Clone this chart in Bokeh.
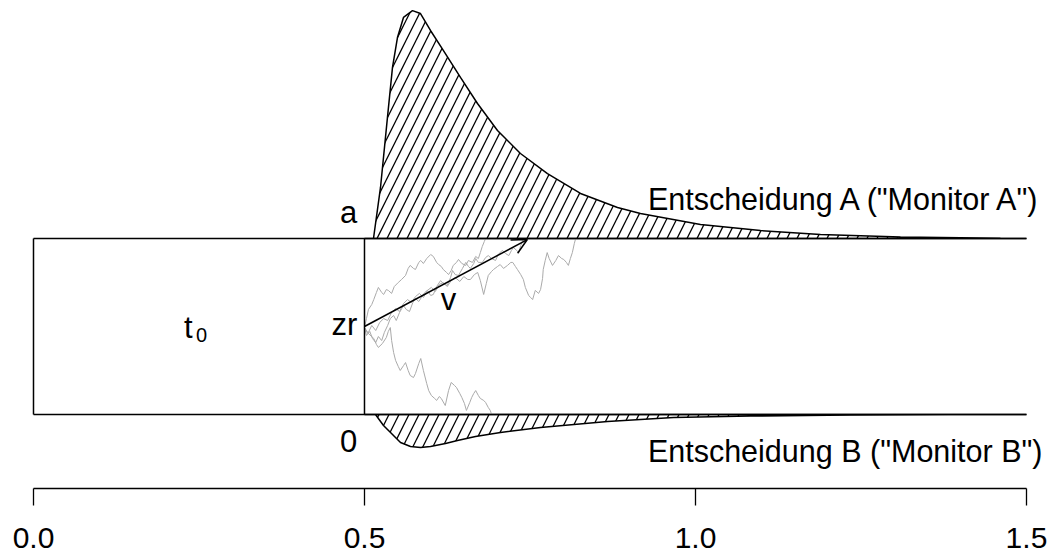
from bokeh.plotting import figure
from bokeh.models import Label, Arrow, OpenHead, FixedTicker, PrintfTickFormatter, Range1d
from bokeh.embed import file_html
from bokeh.resources import INLINE

# ---- model parameters (schematic diffusion model) ----
t0 = 0.5          # non-decision time
a = 1.0           # upper boundary
zr = 0.5          # starting point
v_end = (0.746, 0.994)  # drift arrow tip

x_ticks = [0.0, 0.5, 1.0, 1.5]
x_max = 1.5

# upper (decision A) RT density
upper_t = [0.5136, 0.5242, 0.5347, 0.5423, 0.5498, 0.5589, 0.5725, 0.5846, 0.5997,
           0.6193, 0.6450, 0.6707, 0.7009, 0.7356, 0.7764, 0.8263, 0.8822, 0.9169,
           1.0076, 1.0982, 1.1888, 1.3097, 1.4607, 1.5]
upper_d = [0.0, 0.290, 0.688, 0.972, 1.142, 1.256, 1.295, 1.278, 1.182,
           1.068, 0.915, 0.767, 0.614, 0.483, 0.369, 0.256, 0.176, 0.142,
           0.080, 0.045, 0.023, 0.009, 0.001, 0.0]

# lower (decision B) RT density
lower_t = [0.5166, 0.5287, 0.5393, 0.5544, 0.5695, 0.5846, 0.5997, 0.6224, 0.6405,
           0.6677, 0.7054, 0.7659, 0.8671, 0.9668, 1.0831, 1.2341, 1.3852, 1.5]
lower_d = [0.0, 0.0625, 0.102, 0.159, 0.182, 0.188, 0.182, 0.165, 0.148,
           0.125, 0.102, 0.074, 0.040, 0.017, 0.009, 0.003, 0.0006, 0.0]

# sample diffusion paths (time, evidence)
walk_a = [(0.500, 0.494), (0.503, 0.545), (0.506, 0.597), (0.511, 0.625), (0.514, 0.653),
          (0.518, 0.693), (0.521, 0.722), (0.526, 0.693), (0.529, 0.682), (0.533, 0.710),
          (0.536, 0.705), (0.541, 0.688), (0.545, 0.727), (0.551, 0.750), (0.556, 0.767),
          (0.562, 0.790), (0.566, 0.830), (0.569, 0.847), (0.574, 0.830), (0.577, 0.824),
          (0.582, 0.864), (0.585, 0.875), (0.589, 0.858), (0.594, 0.886), (0.600, 0.909),
          (0.604, 0.898), (0.609, 0.864), (0.612, 0.852), (0.616, 0.841), (0.619, 0.824),
          (0.624, 0.807), (0.627, 0.795), (0.631, 0.818), (0.634, 0.847), (0.639, 0.864),
          (0.642, 0.881), (0.647, 0.858), (0.653, 0.847), (0.657, 0.875), (0.663, 0.864),
          (0.668, 0.898), (0.672, 0.886), (0.675, 0.920), (0.678, 0.955), (0.681, 0.983),
          (0.683, 1.000)]
walk_b = [(0.500, 0.494), (0.505, 0.460), (0.511, 0.506), (0.517, 0.477), (0.523, 0.523),
          (0.529, 0.545), (0.535, 0.534), (0.541, 0.580), (0.547, 0.602), (0.553, 0.585),
          (0.559, 0.631), (0.565, 0.653), (0.571, 0.636), (0.577, 0.670), (0.583, 0.688),
          (0.589, 0.665), (0.595, 0.705), (0.601, 0.722), (0.607, 0.699), (0.613, 0.739),
          (0.619, 0.750), (0.625, 0.727), (0.631, 0.761), (0.637, 0.778), (0.644, 0.756),
          (0.650, 0.784), (0.656, 0.767), (0.660, 0.767), (0.666, 0.795), (0.671, 0.807),
          (0.675, 0.761), (0.680, 0.682), (0.684, 0.744), (0.687, 0.790), (0.692, 0.813),
          (0.695, 0.824), (0.701, 0.841), (0.705, 0.852), (0.710, 0.830), (0.716, 0.847),
          (0.721, 0.864), (0.724, 0.864), (0.728, 0.841), (0.731, 0.824), (0.736, 0.795),
          (0.740, 0.767), (0.743, 0.722), (0.748, 0.676), (0.751, 0.665), (0.754, 0.653),
          (0.758, 0.705), (0.763, 0.688), (0.766, 0.710), (0.769, 0.773), (0.770, 0.824),
          (0.773, 0.875), (0.776, 0.920), (0.779, 0.886), (0.784, 0.847), (0.789, 0.875),
          (0.793, 0.903), (0.798, 0.886), (0.801, 0.881), (0.805, 0.864), (0.808, 0.847),
          (0.811, 0.886), (0.814, 0.920), (0.817, 0.972), (0.819, 1.000)]
walk_c = [(0.500, 0.494), (0.503, 0.449), (0.508, 0.472), (0.512, 0.432), (0.517, 0.409),
          (0.521, 0.443), (0.526, 0.420), (0.530, 0.466), (0.535, 0.506), (0.539, 0.545),
          (0.544, 0.5625), (0.548, 0.534), (0.553, 0.580), (0.559, 0.619), (0.563, 0.597),
          (0.568, 0.585), (0.573, 0.636), (0.577, 0.659), (0.582, 0.642), (0.586, 0.665),
          (0.591, 0.693), (0.595, 0.705), (0.600, 0.676), (0.604, 0.682), (0.609, 0.727),
          (0.615, 0.761), (0.619, 0.744), (0.625, 0.733), (0.630, 0.778), (0.633, 0.818),
          (0.637, 0.795), (0.642, 0.790), (0.648, 0.830), (0.653, 0.864), (0.657, 0.841),
          (0.660, 0.830), (0.665, 0.858), (0.668, 0.886), (0.672, 0.864), (0.678, 0.864),
          (0.683, 0.892), (0.687, 0.903), (0.692, 0.886), (0.698, 0.875), (0.702, 0.909),
          (0.708, 0.932), (0.713, 0.915), (0.718, 0.903), (0.722, 0.932), (0.725, 0.949),
          (0.730, 0.932), (0.733, 0.920), (0.736, 0.960), (0.739, 0.989), (0.740, 1.000)]
walk_d = [(0.500, 0.494), (0.506, 0.460), (0.514, 0.432), (0.518, 0.398), (0.521, 0.381),
          (0.527, 0.403), (0.533, 0.4375), (0.536, 0.472), (0.539, 0.494), (0.541, 0.420),
          (0.544, 0.352), (0.547, 0.307), (0.551, 0.273), (0.554, 0.250), (0.559, 0.278),
          (0.562, 0.295), (0.566, 0.250), (0.569, 0.222), (0.574, 0.210), (0.577, 0.233),
          (0.582, 0.290), (0.585, 0.318), (0.589, 0.250), (0.594, 0.176), (0.597, 0.136),
          (0.601, 0.108), (0.606, 0.091), (0.609, 0.080), (0.613, 0.102), (0.616, 0.091),
          (0.622, 0.051), (0.627, 0.136), (0.631, 0.182), (0.636, 0.165), (0.639, 0.153),
          (0.644, 0.119), (0.647, 0.097), (0.651, 0.0625), (0.654, 0.023), (0.659, 0.068),
          (0.662, 0.097), (0.665, 0.119), (0.668, 0.136), (0.672, 0.108), (0.675, 0.091),
          (0.680, 0.080), (0.683, 0.068), (0.687, 0.040), (0.690, 0.023), (0.692, 0.000)]
walks = [walk_a, walk_b, walk_c, walk_d]

label_a = "Entscheidung A (\"Monitor A\")"
label_b = "Entscheidung B (\"Monitor B\")"

FONT = "Liberation Sans"
FS = "31px"

p = figure(width=1050, height=557, output_backend="svg", toolbar_location=None,
           x_range=Range1d(-0.04985, 1.5363), y_range=Range1d(-0.4205, 2.3523),
           y_axis_location=None, min_border_left=0, min_border_right=0,
           min_border_top=0, min_border_bottom=69)
p.xgrid.visible = False
p.ygrid.visible = False
p.outline_line_color = None
p.background_fill_color = "white"

# axis
ax = p.xaxis[0]
ax.ticker = FixedTicker(ticks=x_ticks)
ax.formatter = PrintfTickFormatter(format="%.1f")
ax.bounds = (x_ticks[0], x_ticks[-1])
ax.axis_line_color = "black"
ax.axis_line_width = 1.3
ax.major_tick_line_color = "black"
ax.major_tick_line_width = 1.3
ax.major_tick_out = 17
ax.major_tick_in = 0
ax.minor_tick_line_color = None
ax.major_label_text_font = FONT
ax.major_label_text_font_size = "30px"
ax.major_label_text_color = "black"
ax.major_label_standoff = 22

# densities (hatched)
up_x = [t0] + upper_t
up_y = [a] + [a + d for d in upper_d]
p.patch(up_x, up_y, fill_alpha=0, hatch_pattern="/", hatch_color="black",
        hatch_scale=20, hatch_weight=1.3, line_color="black", line_width=1.5)
lo_x = [t0] + lower_t
lo_y = [0.0] + [-d for d in lower_d]
p.patch(lo_x, lo_y, fill_alpha=0, hatch_pattern="/", hatch_color="black",
        hatch_scale=20, hatch_weight=1.3, line_color="black", line_width=1.5)

# diffusion paths
for w in walks:
    p.line([q[0] for q in w], [q[1] for q in w], line_color="#aaaaaa", line_width=1)

# boundaries and t0 box
p.line([0, x_max], [a, a], line_color="black", line_width=1.5)
p.line([0, x_max], [0, 0], line_color="black", line_width=1.5)
p.line([0, 0], [0, a], line_color="black", line_width=1.5)
p.line([t0, t0], [0, a], line_color="black", line_width=1.5)

# drift arrow
p.add_layout(Arrow(end=OpenHead(size=15, line_width=1.5, line_color="black"),
                   x_start=t0, y_start=zr, x_end=v_end[0], y_end=v_end[1],
                   line_width=1.5, line_color="black"))

def lab(x, y, text, align="left", size=FS):
    p.add_layout(Label(x=x, y=y, text=text, text_font=FONT, text_font_size=size,
                       text_align=align, text_baseline="middle", text_color="black"))

lab(0.476, 1.148, "a", "center")
lab(0.476, -0.153, "0", "center")
lab(0.489, 0.511, "zr", "right")
lab(0.234, 0.494, "t", "center")
lab(0.254, 0.449, "0", "center", "20px")
lab(0.627, 0.653, "v", "center")
lab(1.5242, 1.222, label_a, "right", "30.5px")
lab(1.5242, -0.210, label_b, "right", "30.5px")

open("out.html", "w").write(file_html(p, INLINE))
